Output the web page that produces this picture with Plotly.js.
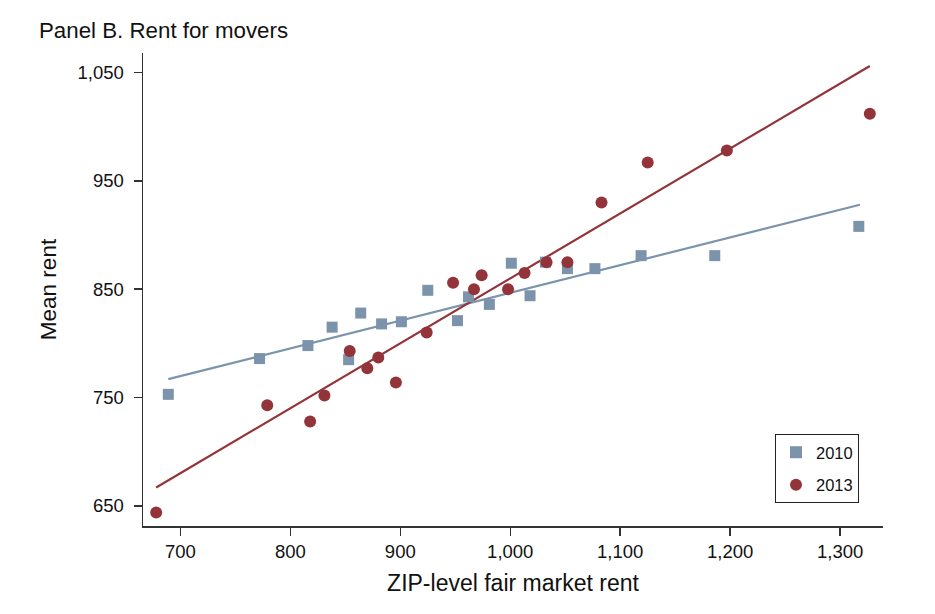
<!DOCTYPE html>
<html>
<head>
<meta charset="utf-8">
<script src="https://cdn.plot.ly/plotly-3.0.1.min.js"></script>
<style>html,body{margin:0;padding:0;background:#fff;}#chart{width:935px;height:614px;}</style>
</head>
<body>
<div id="chart"></div>
<script>
// 2010 binned means
const x2010 = [689, 772, 816, 838, 853, 864, 883, 901, 925, 952, 962, 981, 1001, 1018, 1032, 1052, 1077, 1119, 1186, 1317];
const y2010 = [753, 786, 798, 815, 785, 828, 818, 820, 849, 821, 843, 836, 874, 844, 875, 869, 869, 881, 881, 908];
// 2013 binned means
const x2013 = [678, 779, 818, 831, 854, 870, 880, 896, 924, 948, 967, 974, 998, 1013, 1033, 1052, 1083, 1125, 1197, 1327];
const y2013 = [644, 743, 728, 752, 793, 777, 787, 764, 810, 856, 850, 863, 850, 865, 875, 875, 930, 967, 978, 1012];
// fitted lines (endpoints)
const fit2010x = [689, 1318];
const fit2010y = [767, 928];
const fit2013x = [678, 1327];
const fit2013y = [667, 1056];

const xTicks = [700, 800, 900, 1000, 1100, 1200, 1300];
const yTicks = [650, 750, 850, 950, 1050];

const blue = '#7b93ab';
const red = '#93343b';

const traces = [
  {x: fit2010x, y: fit2010y, mode: 'lines', line: {color: blue, width: 2.2}, showlegend: false, hoverinfo: 'skip'},
  {x: fit2013x, y: fit2013y, mode: 'lines', line: {color: red, width: 2.2}, showlegend: false, hoverinfo: 'skip'},
  {x: x2010, y: y2010, mode: 'markers', name: '2010', legendgroup: 'a', marker: {symbol: 'square', size: 11, color: blue}},
  {x: x2013, y: y2013, mode: 'markers', name: '2013', legendgroup: 'b', marker: {symbol: 'circle', size: 12, color: red}}
];

const fontFam = 'Liberation Sans, Arial, Helvetica, sans-serif';
const plotW = 935 - 143 - 52, plotH = 614 - 53 - 88;
const layout = {
  width: 935, height: 614,
  margin: {l: 143, r: 52, t: 53, b: 88},
  paper_bgcolor: '#fff', plot_bgcolor: '#fff',
  font: {family: fontFam, color: '#111', size: 18},
  title: {text: 'Panel B. Rent for movers', x: 39/935, xanchor: 'left', y: 1 - 30/614, yanchor: 'middle', font: {size: 22.3, family: fontFam, color: '#111'}},
  xaxis: {
    range: [666, 1339], tickvals: xTicks, tickformat: ',', showgrid: false, zeroline: false,
    showline: true, linecolor: '#333', linewidth: 1.5, ticks: 'outside', ticklen: 8, tickcolor: '#333', tickwidth: 1.5,
    tickfont: {size: 18.5},
    title: {text: 'ZIP-level fair market rent', font: {size: 23}, standoff: 14}
  },
  yaxis: {
    range: [631.5, 1068], tickvals: yTicks, tickformat: ',', showgrid: false, zeroline: false,
    showline: true, linecolor: '#333', linewidth: 1.5, ticks: 'outside', ticklen: 8, tickcolor: '#333', tickwidth: 1.5,
    tickfont: {size: 18.5}, ticklabelstandoff: 6,
    title: {text: 'Mean rent', font: {size: 22.5}, standoff: 14}
  },
  legend: {
    x: (775 - 143) / plotW, xanchor: 'left',
    y: (526 - 503) / plotH, yanchor: 'bottom',
    bordercolor: '#222', borderwidth: 1, bgcolor: '#fff',
    font: {size: 16.5}, itemsizing: 'constant', tracegroupgap: 8
  },
  showlegend: true
};

Plotly.newPlot('chart', traces, layout, {displayModeBar: false, staticPlot: true});
</script>
</body>
</html>
